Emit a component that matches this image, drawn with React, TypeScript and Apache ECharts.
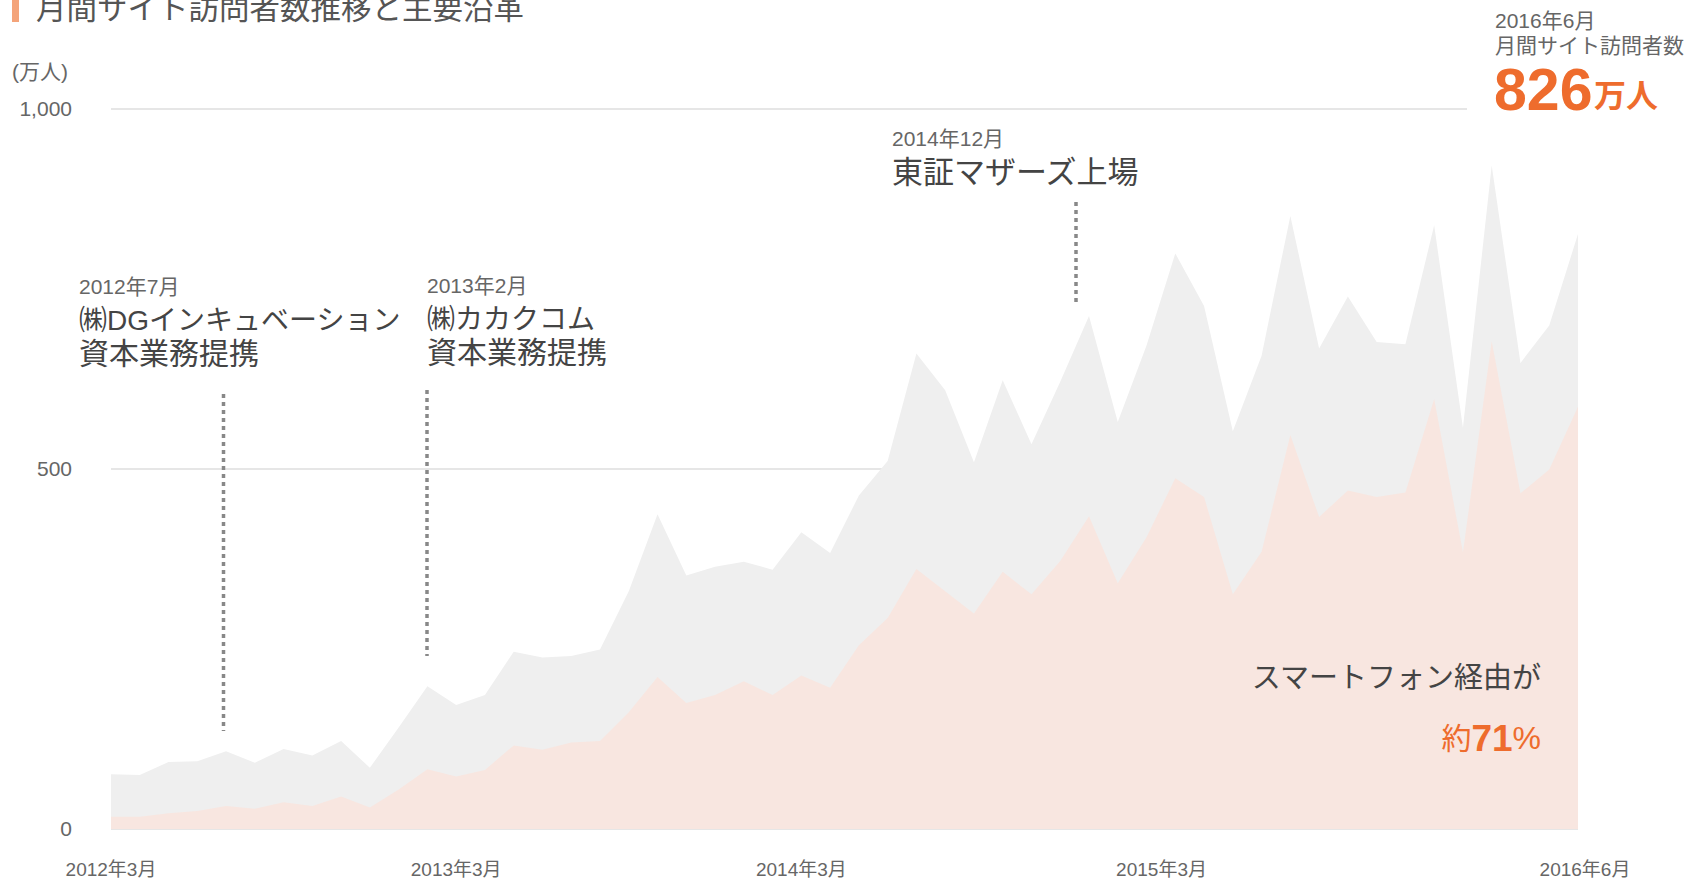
import React, { useEffect, useRef } from "react";
import * as echarts from "echarts";

const months = [
  "2012年3月", "2012年4月", "2012年5月", "2012年6月", "2012年7月", "2012年8月", "2012年9月", "2012年10月", "2012年11月", "2012年12月",
  "2013年1月", "2013年2月", "2013年3月", "2013年4月", "2013年5月", "2013年6月", "2013年7月", "2013年8月", "2013年9月", "2013年10月", "2013年11月", "2013年12月",
  "2014年1月", "2014年2月", "2014年3月", "2014年4月", "2014年5月", "2014年6月", "2014年7月", "2014年8月", "2014年9月", "2014年10月", "2014年11月", "2014年12月",
  "2015年1月", "2015年2月", "2015年3月", "2015年4月", "2015年5月", "2015年6月", "2015年7月", "2015年8月", "2015年9月", "2015年10月", "2015年11月", "2015年12月",
  "2016年1月", "2016年2月", "2016年3月", "2016年4月", "2016年5月", "2016年6月",
];

// 月間サイト訪問者数 (万人)
const totalVisitors = [
  76, 75, 93, 94, 108, 92, 111, 102, 122, 85,
  141, 198, 172, 186, 246, 238, 240, 249, 330, 437, 352, 364,
  371, 360, 412, 383, 463, 511, 660, 609, 509, 623, 534, 621,
  712, 565, 671, 799, 726, 552, 657, 851, 667, 739, 676, 673,
  838, 557, 921, 647, 699, 826,
];

// スマートフォン経由 (万人)
const smartphoneVisitors = [
  17, 17, 22, 25, 32, 28, 37, 32, 45, 30,
  55, 83, 73, 82, 116, 110, 120, 122, 162, 211, 175, 186,
  205, 186, 213, 196, 255, 293, 361, 330, 299, 357, 326, 372,
  434, 341, 405, 487, 461, 326, 385, 547, 433, 470, 461, 467,
  597, 384, 677, 466, 499, 586,
];

const shownMonthIdx = [0, 12, 24, 36, 51];
const labelShift: Record<number, number> = { 36: 30, 51: 14 };

const FONT = "'Liberation Sans', 'Noto Sans CJK JP', sans-serif";
const ORANGE = "#ee6c2d";

export default function App() {
  const ref = useRef<HTMLDivElement>(null);

  useEffect(() => {
    if (!ref.current) return;
    const chart = echarts.init(ref.current, undefined, { renderer: "svg" });

    const text = (x: number, y: number, t: string, size: number, color: string, extra: any = {}) => ({
      type: "text",
      x,
      y,
      z: 100,
      style: {
        text: t,
        fontSize: size,
        fontFamily: FONT,
        fill: color,
        verticalAlign: "middle",
        align: "left",
        ...extra,
      },
    });

    const dotted = (x: number, y1: number, y2: number) => ({
      type: "line",
      z: 100,
      shape: { x1: x, y1, x2: x, y2 },
      style: { stroke: "#888888", lineWidth: 3.5, lineDash: [4, 4] },
    });

    const xRich = (pad: number) => ({ padding: [0, 0, 0, pad], fontSize: 19, color: "#666", fontFamily: FONT });

    chart.setOption({
      animation: false,
      textStyle: { fontFamily: FONT },
      grid: { left: 111, right: 108, top: 108.6, bottom: 49 },
      xAxis: {
        type: "category",
        data: months,
        boundaryGap: false,
        axisLine: { show: false },
        axisTick: { show: false },
        splitLine: { show: false },
        axisLabel: {
          interval: (idx: number) => shownMonthIdx.includes(idx),
          margin: 31,
          color: "#666",
          fontSize: 19,
          fontFamily: FONT,
          showMaxLabel: true,
          formatter: (v: string, idx: number) => {
            const s = labelShift[idx];
            return s ? `{s${s}|${v}}` : v;
          },
          rich: {
            s30: xRich(30),
            s14: xRich(14),
          },
        },
      },
      yAxis: {
        type: "value",
        min: 0,
        max: 1000,
        interval: 500,
        axisLine: { show: false },
        axisTick: { show: false },
        axisLabel: {
          margin: 39,
          color: "#666",
          fontSize: 21,
          fontFamily: FONT,
          padding: [0, 0, 8, 0],
          formatter: (v: number) => v.toLocaleString("en-US"),
        },
        splitLine: { lineStyle: { color: "#e6e6e6", width: 2 } },
      },
      series: [
        {
          name: "月間サイト訪問者数",
          type: "line",
          data: totalVisitors,
          symbol: "none",
          silent: true,
          lineStyle: { width: 0, opacity: 0 },
          areaStyle: { color: "#efefef", opacity: 1 },
          z: 2,
        },
        {
          name: "スマートフォン経由",
          type: "line",
          data: smartphoneVisitors,
          symbol: "none",
          silent: true,
          lineStyle: { width: 0, opacity: 0 },
          areaStyle: { color: "#f8e6e0", opacity: 1 },
          z: 3,
        },
      ],
      graphic: [
        { type: "rect", z: 100, shape: { x: 1467, y: 103, width: 140, height: 12 }, style: { fill: "#ffffff" } },
        { type: "rect", z: 100, shape: { x: 12, y: 0, width: 7, height: 22 }, style: { fill: "#f4a47a" } },
        text(36, 8, "月間サイト訪問者数推移と主要沿革", 30.5, "#555"),
        text(12, 71, "(万人)", 21, "#666"),

        text(79, 286, "2012年7月", 21, "#666"),
        text(79, 320, "㈱DGインキュベーション", 28, "#444"),
        text(79, 353, "資本業務提携", 30, "#444"),
        dotted(223.5, 394, 731),

        text(427, 285, "2013年2月", 21, "#666"),
        text(427, 319, "㈱カカクコム", 28, "#444"),
        text(427, 352, "資本業務提携", 30, "#444"),
        dotted(427, 390, 656),

        text(892, 138, "2014年12月", 21, "#666"),
        text(892, 172, "東証マザーズ上場", 31, "#444"),
        dotted(1076, 202, 302),

        text(1495, 20, "2016年6月", 21, "#666"),
        text(1495, 45, "月間サイト訪問者数", 21, "#666"),
        text(1494, 90, "826", 59, ORANGE, { fontWeight: "bold" }),
        text(1594, 96, "万人", 32, ORANGE, { fontWeight: "bold" }),

        text(1541, 678, "スマートフォン経由が", 29, "#444", { align: "right" }),
        {
          type: "text",
          x: 1541,
          y: 738,
          z: 100,
          style: {
            text: "{a|約}{b|71}{c|%}",
            align: "right",
            verticalAlign: "middle",
            fontFamily: FONT,
            rich: {
              a: { fontSize: 30, fill: ORANGE, fontFamily: FONT },
              b: { fontSize: 37, fill: ORANGE, fontWeight: "bold", fontFamily: FONT },
              c: { fontSize: 32, fill: ORANGE, fontFamily: FONT },
            },
          },
        },
      ],
    });

    return () => chart.dispose();
  }, []);

  return (
    <div
      ref={ref}
      style={{ position: "fixed", left: 0, top: 0, width: 1686, height: 879, background: "#fff" }}
    />
  );
}
